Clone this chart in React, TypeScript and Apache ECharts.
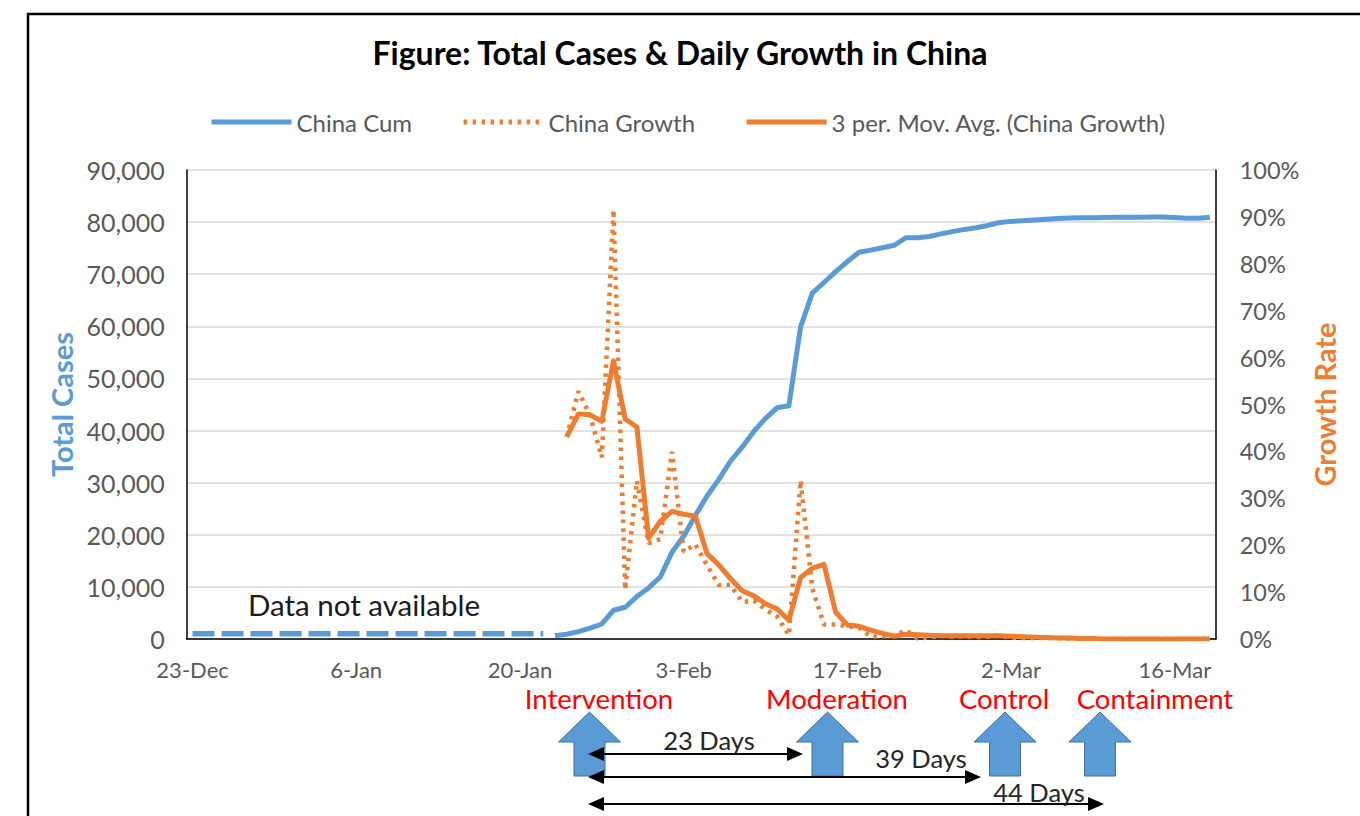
import React, { useEffect, useRef } from "react";
import * as echarts from "echarts";

// Daily categories, 23-Dec-2019 through 19-Mar-2020
const dates = [
  "23-Dec", "24-Dec", "25-Dec", "26-Dec", "27-Dec", "28-Dec", "29-Dec", "30-Dec", "31-Dec",
  "1-Jan", "2-Jan", "3-Jan", "4-Jan", "5-Jan", "6-Jan", "7-Jan", "8-Jan", "9-Jan", "10-Jan",
  "11-Jan", "12-Jan", "13-Jan", "14-Jan", "15-Jan", "16-Jan", "17-Jan", "18-Jan", "19-Jan", "20-Jan",
  "21-Jan", "22-Jan", "23-Jan", "24-Jan", "25-Jan", "26-Jan", "27-Jan", "28-Jan", "29-Jan", "30-Jan", "31-Jan",
  "1-Feb", "2-Feb", "3-Feb", "4-Feb", "5-Feb", "6-Feb", "7-Feb", "8-Feb", "9-Feb", "10-Feb",
  "11-Feb", "12-Feb", "13-Feb", "14-Feb", "15-Feb", "16-Feb", "17-Feb", "18-Feb", "19-Feb", "20-Feb",
  "21-Feb", "22-Feb", "23-Feb", "24-Feb", "25-Feb", "26-Feb", "27-Feb", "28-Feb", "29-Feb",
  "1-Mar", "2-Mar", "3-Mar", "4-Mar", "5-Mar", "6-Mar", "7-Mar", "8-Mar", "9-Mar", "10-Mar",
  "11-Mar", "12-Mar", "13-Mar", "14-Mar", "15-Mar", "16-Mar", "17-Mar", "18-Mar", "19-Mar",
];

// Placeholder level for the period before reporting began (dashed)
const unavailableFrom = "23-Dec";
const unavailableTo = "22-Jan";
const unavailableLevel = 1000;

// Cumulative confirmed cases, from 23-Jan
const cumStart = "23-Jan";
const chinaCum = [
  640, 920, 1410, 2080, 2880, 5510, 6090, 8140, 9800,
  11890, 16630, 19720, 23710, 27440, 30590, 34110, 36810, 39830, 42350,
  44390, 44760, 59900, 66360, 68410, 70510, 72430, 74210, 74620, 75080,
  75550, 77000, 77020, 77240, 77750, 78170, 78600, 78930, 79360,
  79930, 80140, 80260, 80390, 80540, 80690, 80770, 80820, 80860, 80890,
  80920, 80930, 80950, 80980, 81000, 80880, 80760, 80760, 80950,
];

// Daily growth rate (%) and its 3-period moving average, from 24-Jan
const growthStart = "24-Jan";
const chinaGrowth = [
  43.1, 52.8, 47.6, 38.7, 91.5, 10.5, 33.7, 20.4,
  21.3, 39.9, 18.6, 20.2, 15.7, 11.5, 11.5, 7.9, 8.2, 6.3,
  4.8, 0.8, 33.8, 10.8, 3.1, 3.1, 2.7, 2.4, 0.5, 0.6,
  0.6, 1.9, 0.1, 0.3, 0.7, 0.5, 0.6, 0.4, 0.5,
  0.7, 0.3, 0.2, 0.2, 0.2, 0.2, 0.1, 0.1, 0.0, 0.0,
  0.0, 0.0, 0.0, 0.0, 0.0, 0.0, 0.0, 0.0, 0.1,
];
const growthMovAvg = [
  43.1, 48.0, 47.8, 46.4, 59.3, 46.9, 45.2, 21.5,
  25.1, 27.2, 26.6, 26.2, 18.2, 15.8, 12.9, 10.3, 9.2, 7.5,
  6.4, 4.0, 13.1, 15.1, 15.9, 5.7, 3.0, 2.7, 1.9, 1.2,
  0.6, 1.0, 0.9, 0.8, 0.7, 0.7, 0.7, 0.7, 0.7,
  0.7, 0.6, 0.5, 0.4, 0.3, 0.2, 0.2, 0.1, 0.1, 0.0,
  0.0, 0.0, 0.0, 0.0, 0.0, 0.0, 0.0, 0.0, 0.0,
];

const seriesNames = ["China Cum", "China Growth", "3 per. Mov. Avg. (China Growth)"];

// Phase call-outs under the axis
const phases = [
  { label: "Intervention", labelX: 599, arrowX: 589.5 },
  { label: "Moderation", labelX: 837, arrowX: 827.5 },
  { label: "Control", labelX: 1004, arrowX: 1005 },
  { label: "Containment", labelX: 1155, arrowX: 1100 },
];
const spans = [
  { text: "23 Days", to: 803, y: 754, textX: 709, textY: 740 },
  { text: "39 Days", to: 981, y: 777, textX: 921, textY: 758 },
  { text: "44 Days", to: 1104, y: 804, textX: 1039, textY: 792 },
];
const spanFrom = 588;

const FONT = "Lato, 'Open Sans', sans-serif";
const BLUE = "#5b9bd5";
const ORANGE = "#ed7d31";
const GREY = "#595959";

const pairsFrom = (start: string, values: number[]) => {
  const i0 = dates.indexOf(start);
  return values.map((v, i) => [i0 + i, v]);
};

const blockArrow = (cx: number) => ({
  type: "polygon",
  silent: true,
  shape: {
    points: [
      [cx, 712], [cx + 31, 742], [cx + 15.5, 742], [cx + 15.5, 776],
      [cx - 15.5, 776], [cx - 15.5, 742], [cx - 31, 742],
    ],
  },
  style: { fill: BLUE, stroke: "#41719c", lineWidth: 1 },
});

const spanArrow = (x1: number, x2: number, y: number) => [
  { type: "line", silent: true, z: 10, shape: { x1: x1 + 10, y1: y, x2: x2 - 10, y2: y }, style: { stroke: "#000", lineWidth: 2 } },
  { type: "polygon", silent: true, z: 10, shape: { points: [[x1, y], [x1 + 16, y - 7], [x1 + 16, y + 7]] }, style: { fill: "#000" } },
  { type: "polygon", silent: true, z: 10, shape: { points: [[x2, y], [x2 - 16, y - 7], [x2 - 16, y + 7]] }, style: { fill: "#000" } },
];

const textEl = (text: string, x: number, y: number, size: number, fill: string, lineHeight: number, z = 10) => ({
  type: "text",
  silent: true,
  z,
  x,
  y,
  style: {
    text,
    fill,
    fontSize: size,
    fontFamily: FONT,
    lineHeight,
    align: "center",
    verticalAlign: "middle",
    textAlign: "center",
    textVerticalAlign: "middle",
  },
});

export default function App() {
  const ref = useRef<HTMLDivElement>(null);

  useEffect(() => {
    if (!ref.current) return;
    const chart = echarts.init(ref.current, undefined, { renderer: "svg" });

    const graphic: any[] = [
      {
        type: "rect",
        silent: true,
        shape: { x: 28, y: 14, width: 1400, height: 900 },
        style: { fill: "none", stroke: "#000", lineWidth: 2.5 },
      },
      textEl("Data not available", 364, 604, 29.5, "#1a1a1a", 32),
    ];
    phases.forEach((p) => {
      graphic.push(textEl(p.label, p.labelX, 698, 27.5, "#ff0000", 24));
      graphic.push(blockArrow(p.arrowX));
    });
    spans.forEach((s) => {
      graphic.push(...spanArrow(spanFrom, s.to, s.y));
      graphic.push(textEl(s.text, s.textX, s.textY, 25.5, "#262626", 22, 11));
    });

    chart.setOption({
      animation: false,
      backgroundColor: "#ffffff",
      textStyle: { fontFamily: FONT },
      title: {
        text: "Figure: Total Cases & Daily Growth in China",
        left: "center",
        top: 31,
        textStyle: { fontSize: 32, fontWeight: "bold", color: "#000", fontFamily: FONT },
      },
      legend: {
        data: seriesNames,
        left: 204,
        top: 105,
        itemWidth: 80,
        itemHeight: 14,
        itemGap: 49,
        itemStyle: { opacity: 0 },
        lineStyle: { width: 5 },
        textStyle: { fontSize: 24, color: GREY, fontFamily: FONT },
      },
      grid: { left: 186.7, right: 144.3, top: 170, bottom: 177, containLabel: false },
      xAxis: {
        type: "category",
        data: dates,
        boundaryGap: true,
        axisLine: { lineStyle: { color: "#000", width: 1.5 } },
        axisTick: { interval: 13, length: 7, lineStyle: { color: "#000", width: 1.5 } },
        axisLabel: { interval: 13, margin: 20, lineHeight: 20, color: GREY, fontSize: 22, fontFamily: FONT },
        splitLine: { show: false },
      },
      yAxis: [
        {
          type: "value",
          position: "left",
          min: 0,
          max: 90000,
          interval: 10000,
          name: "Total Cases",
          nameLocation: "middle",
          nameRotate: 90,
          nameGap: 111,
          nameTextStyle: { color: BLUE, fontSize: 29, fontWeight: "bold", fontFamily: FONT },
          axisLine: { show: true, lineStyle: { color: "#000", width: 1.5 } },
          axisTick: { show: false },
          axisLabel: {
            margin: 22,
            color: GREY,
            fontSize: 25,
            fontFamily: FONT,
            formatter: (v: number) => v.toLocaleString("en-US"),
          },
          splitLine: { lineStyle: { color: "#d9d9d9", width: 1.5 } },
        },
        {
          type: "value",
          position: "right",
          min: 0,
          max: 100,
          interval: 10,
          name: "Growth Rate",
          nameLocation: "middle",
          nameRotate: 90,
          nameGap: 93,
          nameTextStyle: { color: ORANGE, fontSize: 29, fontWeight: "bold", fontFamily: FONT },
          axisLine: { show: true, lineStyle: { color: "#000", width: 1.5 } },
          axisTick: { show: false },
          axisLabel: { margin: 24, color: GREY, fontSize: 23.5, fontFamily: FONT, formatter: "{value}%" },
          splitLine: { show: false },
        },
      ],
      series: [
        {
          name: "Not available",
          type: "line",
          yAxisIndex: 0,
          data: [
            [dates.indexOf(unavailableFrom), unavailableLevel],
            [dates.indexOf(unavailableTo), unavailableLevel],
          ],
          symbol: "none",
          silent: true,
          lineStyle: { color: BLUE, width: 5.5, type: [22, 7] },
          z: 2,
        },
        {
          name: seriesNames[0],
          type: "line",
          yAxisIndex: 0,
          data: pairsFrom(cumStart, chinaCum),
          symbol: "none",
          itemStyle: { color: BLUE },
          lineStyle: { color: BLUE, width: 5, join: "round" },
          z: 3,
        },
        {
          name: seriesNames[1],
          type: "line",
          yAxisIndex: 1,
          data: pairsFrom(growthStart, chinaGrowth),
          symbol: "none",
          itemStyle: { color: ORANGE },
          lineStyle: { color: ORANGE, width: 4.5, type: [3.5, 5.5] },
          z: 4,
        },
        {
          name: seriesNames[2],
          type: "line",
          yAxisIndex: 1,
          data: pairsFrom(growthStart, growthMovAvg),
          symbol: "none",
          itemStyle: { color: ORANGE },
          lineStyle: { color: ORANGE, width: 5, join: "round" },
          z: 5,
        },
      ],
      graphic,
    });

    return () => chart.dispose();
  }, []);

  return (
    <div
      ref={ref}
      style={{ position: "absolute", left: 0, top: 0, width: 1360, height: 816, background: "#fff" }}
    />
  );
}
